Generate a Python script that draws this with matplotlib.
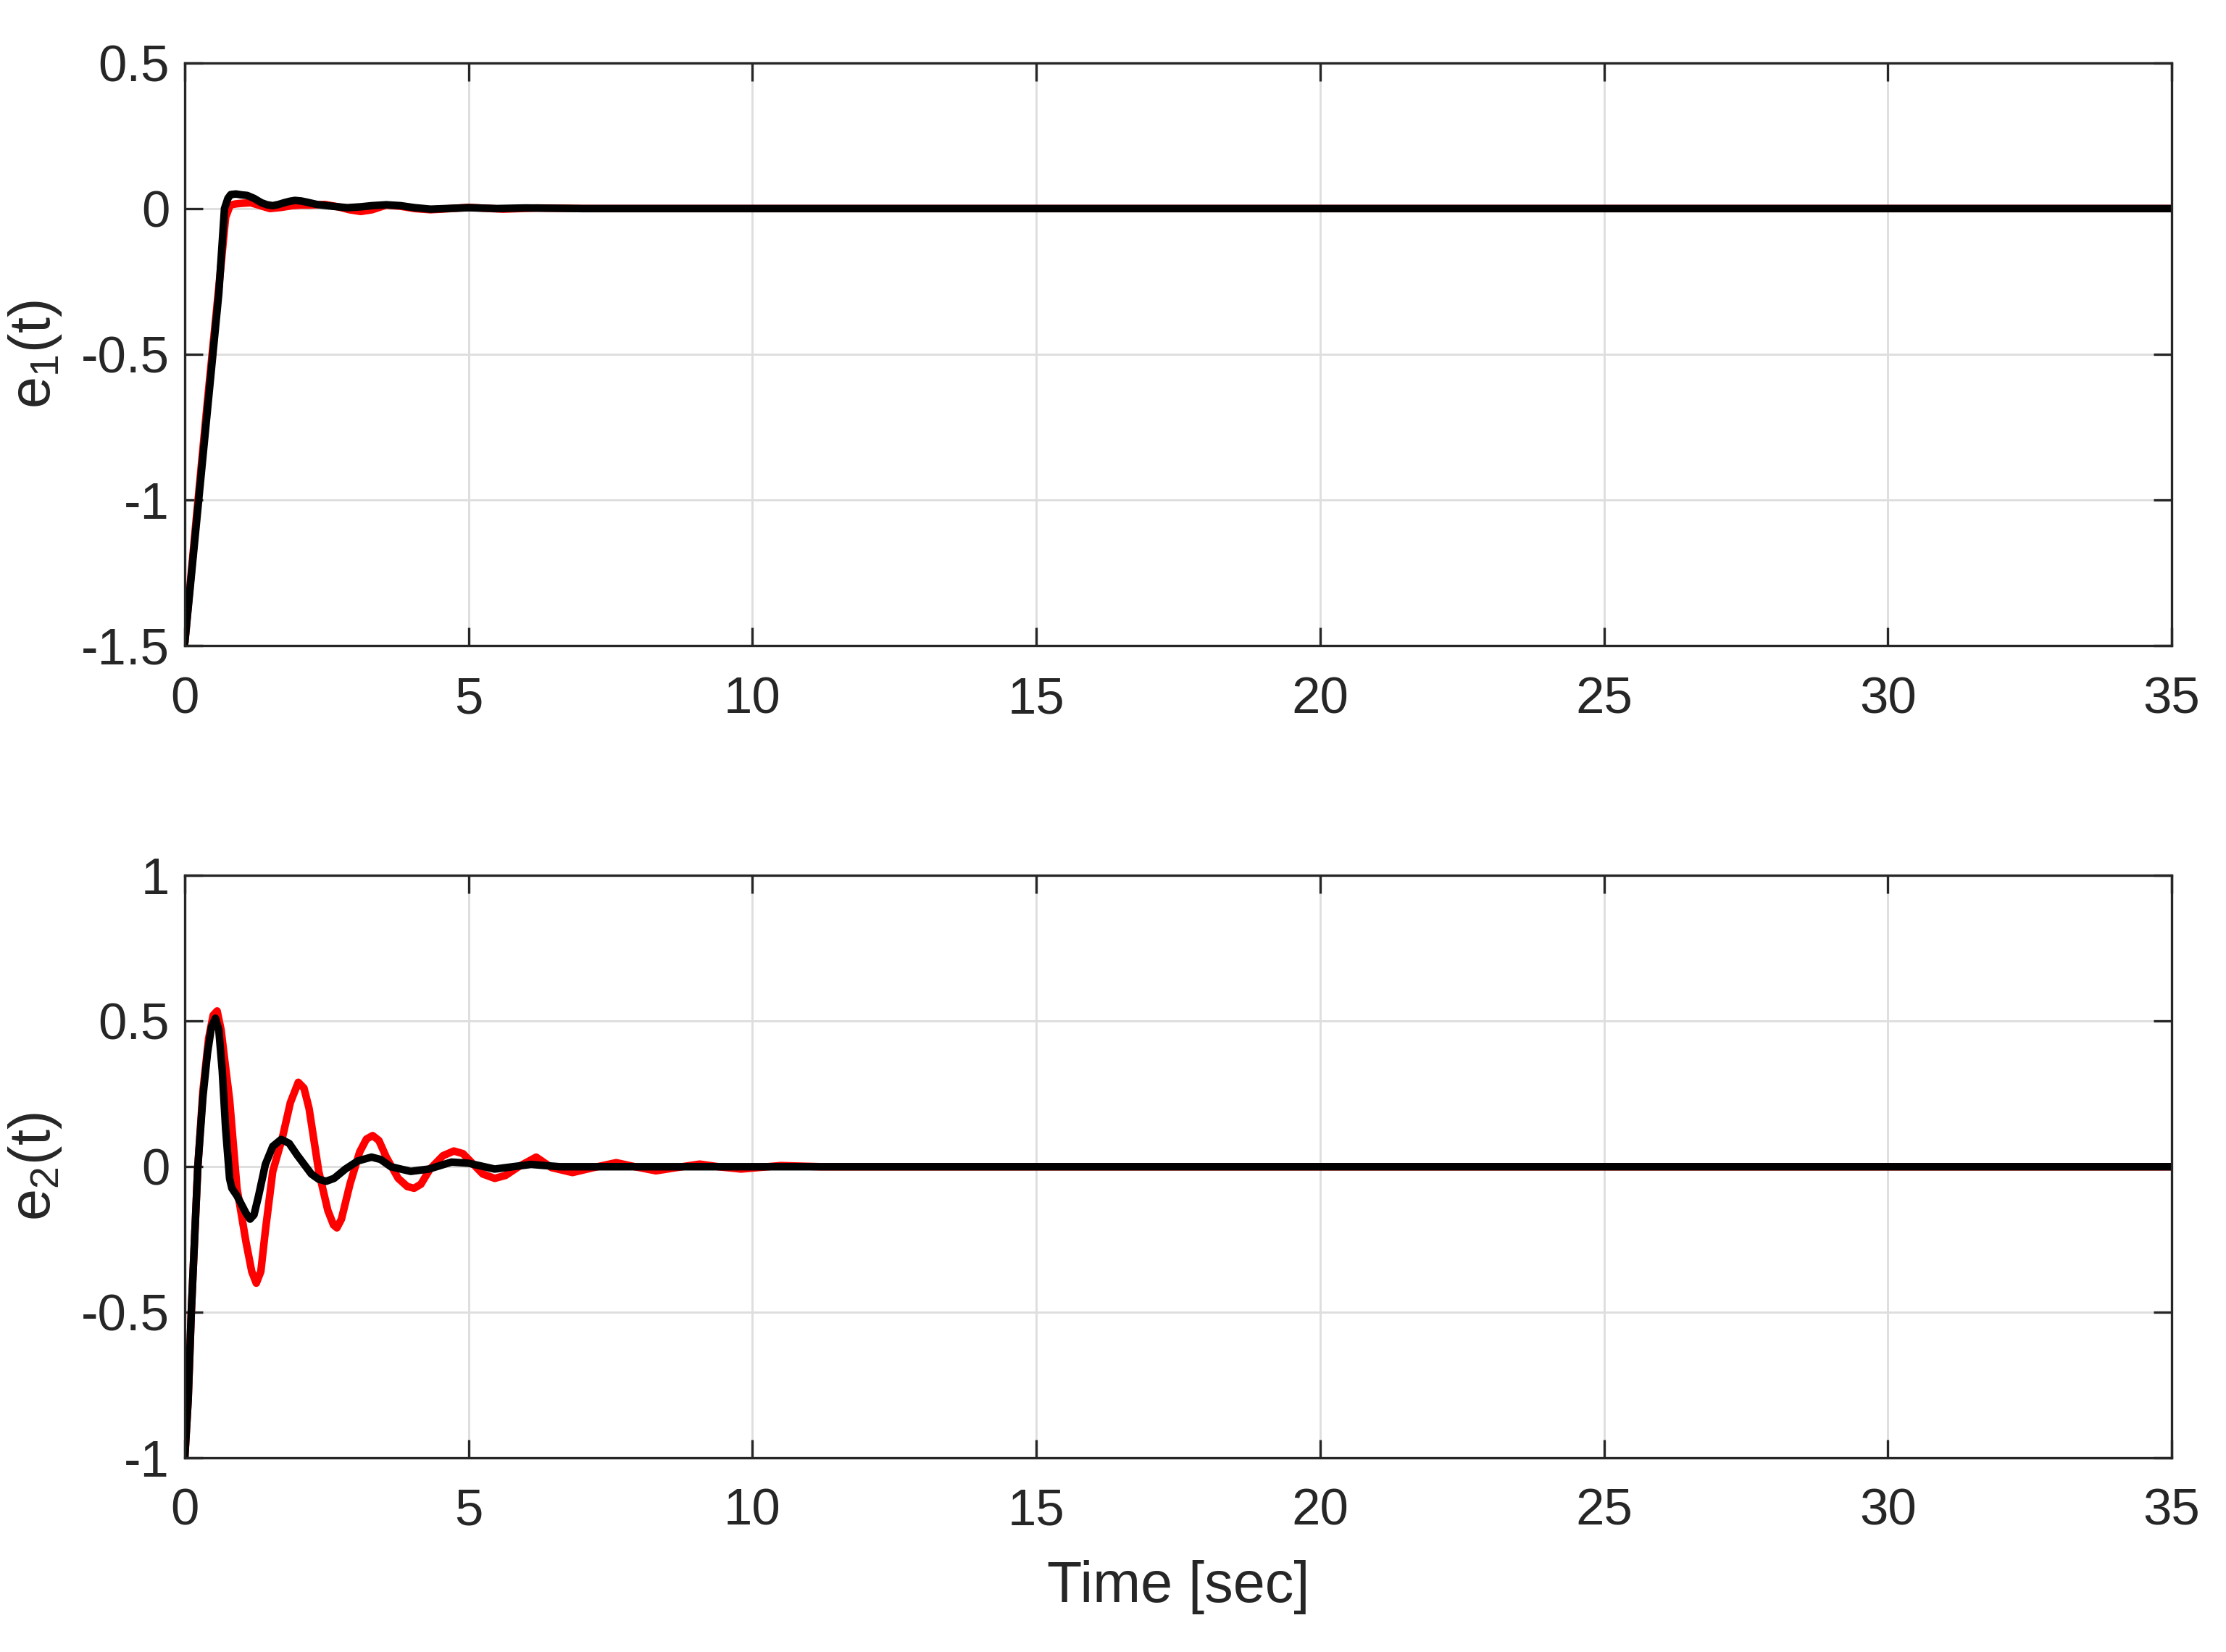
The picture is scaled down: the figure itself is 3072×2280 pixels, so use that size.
import matplotlib
matplotlib.use("Agg")
import matplotlib.pyplot as plt

plt.rcParams["font.family"] = ["Liberation Sans", "DejaVu Sans"]
plt.rcParams["mathtext.fontset"] = "custom"
plt.rcParams["mathtext.rm"] = "Liberation Sans"
plt.rcParams["axes.unicode_minus"] = False

# e1(t), black and red
t1_black = [0, 0.2, 0.4, 0.6, 0.7, 0.76, 0.81, 0.9, 1.0, 1.1, 1.22, 1.35, 1.45, 1.55, 1.65, 1.75, 1.85,
            1.94, 2.05, 2.15, 2.33, 2.6, 2.86, 3.1, 3.3, 3.55, 3.8, 4.05, 4.33, 4.6, 5.0, 5.5, 6.0, 7.0, 35]
e1_black = [-1.49, -1.09, -0.69, -0.29, 0.0, 0.035, 0.048, 0.05, 0.047, 0.045, 0.035, 0.02, 0.013, 0.01, 0.014,
            0.02, 0.025, 0.028, 0.026, 0.022, 0.014, 0.008, 0.003, 0.006, 0.01, 0.013, 0.01, 0.003, -0.002, 0.0,
            0.003, 0.0, 0.002, 0.0, 0.0]
t1_red = [0, 0.2, 0.4, 0.6, 0.72, 0.8, 0.9, 1.0, 1.16, 1.3, 1.5, 1.7, 1.89, 2.05, 2.2, 2.47, 2.7, 2.9,
          3.1, 3.3, 3.55, 3.8, 4.05, 4.33, 4.6, 5.0, 5.6, 6.2, 7.0, 35]
e1_red = [-1.49, -1.07, -0.66, -0.27, -0.03, 0.012, 0.016, 0.018, 0.02, 0.012, 0.0, 0.004, 0.01, 0.012, 0.012,
          0.014, 0.006, -0.004, -0.01, -0.004, 0.012, 0.008, 0.0, -0.004, -0.001, 0.004, -0.002, 0.002, 0.0, 0.0]

# e2(t), black and red
t2_black = [0, 0.06, 0.115, 0.23, 0.32, 0.4, 0.47, 0.54, 0.6, 0.66, 0.72, 0.79, 0.83, 0.92, 1.0, 1.08,
            1.15, 1.22, 1.3, 1.42, 1.55, 1.7, 1.84, 1.98, 2.23, 2.36, 2.49, 2.63, 2.83, 3.05, 3.29, 3.45,
            3.63, 3.98, 4.3, 4.7, 5.0, 5.46, 6.1, 6.6, 7.2, 35]
e2_black = [-1.0, -0.8, -0.5, 0.0, 0.24, 0.39, 0.48, 0.51, 0.47, 0.33, 0.13, -0.041, -0.074, -0.1, -0.13, -0.16,
            -0.18, -0.165, -0.1, 0.008, 0.07, 0.094, 0.08, 0.04, -0.025, -0.043, -0.05, -0.04, -0.008, 0.02,
            0.033, 0.025, 0.0, -0.016, -0.008, 0.016, 0.012, -0.008, 0.008, 0.0, 0.0, 0.0]
t2_red = [0, 0.06, 0.115, 0.23, 0.32, 0.42, 0.5, 0.57, 0.64, 0.72, 0.79, 0.92, 1.08, 1.18, 1.26, 1.34,
          1.42, 1.55, 1.72, 1.86, 2.0, 2.1, 2.19, 2.36, 2.52, 2.62, 2.68, 2.76, 2.91, 3.08, 3.2, 3.31,
          3.42, 3.55, 3.76, 3.92, 4.04, 4.16, 4.32, 4.55, 4.74, 4.9, 5.04, 5.25, 5.46, 5.65, 5.88, 6.19,
          6.46, 6.83, 7.2, 7.6, 7.93, 8.3, 8.66, 9.07, 9.4, 9.8, 10.5, 11.2, 35]
e2_red = [-1.0, -0.8, -0.5, 0.0, 0.26, 0.44, 0.52, 0.535, 0.47, 0.34, 0.23, -0.074, -0.26, -0.36, -0.4, -0.36,
          -0.22, -0.016, 0.1, 0.22, 0.29, 0.27, 0.2, -0.016, -0.15, -0.2, -0.21, -0.18, -0.06, 0.05, 0.095, 0.107,
          0.09, 0.033, -0.04, -0.068, -0.074, -0.06, -0.008, 0.038, 0.054, 0.045, 0.017, -0.025, -0.04, -0.03, 0.0, 0.033,
          -0.003, -0.02, -0.003, 0.014, 0.0, -0.014, -0.003, 0.009, 0.0, -0.008, 0.004, 0.0, 0.0]

xticks = [0, 5, 10, 15, 20, 25, 30, 35]

fig = plt.figure(figsize=(10.24, 7.6), dpi=300)
ax1 = fig.add_axes([0.083, 0.609, 0.8926, 0.353])
ax2 = fig.add_axes([0.083, 0.1175, 0.8926, 0.3525])

panels = [
    (ax1, t1_red, e1_red, t1_black, e1_black, (-1.5, 0.5), [-1.5, -1, -0.5, 0, 0.5], "e$_1$(t)"),
    (ax2, t2_red, e2_red, t2_black, e2_black, (-1, 1), [-1, -0.5, 0, 0.5, 1], "e$_2$(t)"),
]

for ax, tr, yr, tb, yb, ylim, yticks, ylab in panels:
    ax.plot(tr, yr, color="red", linewidth=2.5, solid_joinstyle="round", solid_capstyle="round")
    ax.plot(tb, yb, color="black", linewidth=2.5, solid_joinstyle="round", solid_capstyle="round")
    ax.set_xlim(0, 35)
    ax.set_ylim(*ylim)
    ax.set_xticks(xticks)
    ax.set_yticks(yticks)
    ax.set_yticklabels([f"{v:g}" for v in yticks])
    ax.grid(True, color="#dedede", linewidth=0.7)
    ax.set_axisbelow(True)
    ax.tick_params(direction="in", top=True, right=True, length=6, width=0.8,
                   labelsize=17, colors="#262626", labelcolor="#262626")
    ax.tick_params(axis="x", pad=10)
    ax.tick_params(axis="y", pad=5)
    for s in ax.spines.values():
        s.set_linewidth(0.8)
        s.set_color("#262626")
    ax.set_ylabel(ylab, fontsize=19, color="#262626")
    ax.yaxis.set_label_coords(-0.061, 0.5)

ax2.set_xlabel("Time [sec]", fontsize=19, color="#262626", labelpad=8)

fig.savefig("out.png", dpi=300)
